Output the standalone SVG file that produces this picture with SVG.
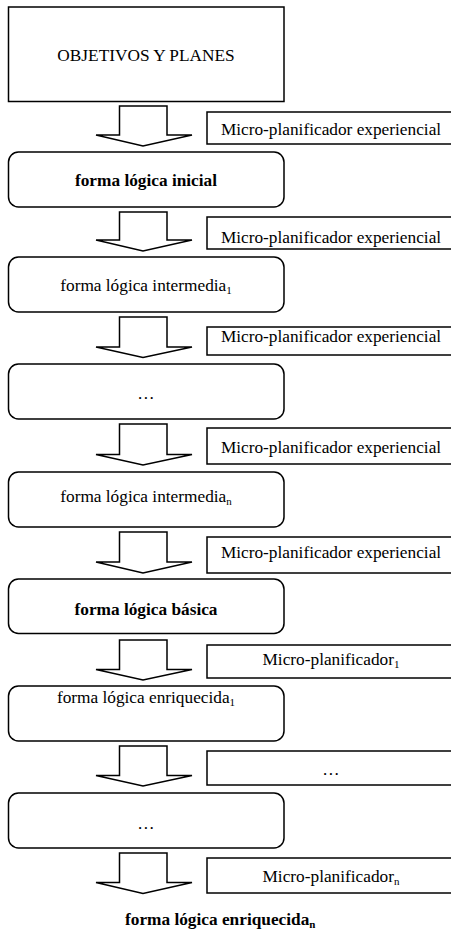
<svg xmlns="http://www.w3.org/2000/svg" width="451" height="940" viewBox="0 0 451 940">
<style>
.box{fill:#fff;stroke:#000;stroke-width:1.5}
.arr{fill:#fff;stroke:#000;stroke-width:1.5;stroke-linejoin:miter}
.t{font-family:"Liberation Serif","Times New Roman",serif;font-size:17.3px;fill:#000}
.c{text-anchor:middle}
.b{font-weight:bold}
.sub{font-size:11px}
</style>
<rect width="451" height="940" fill="#fff"/>
<g id="objetivos">
<rect class="box" x="8.5" y="7" width="275.5" height="94.5"/>
<text class="t c" x="146" y="61">OBJETIVOS Y PLANES</text>
</g>
<g id="fl-inicial">
<rect class="box" x="8.5" y="152" width="275.5" height="55" rx="10"/>
<text class="t c b" x="146" y="185.5">forma lógica inicial</text>
</g>
<g id="fl-intermedia1">
<rect class="box" x="8.5" y="257" width="275.5" height="55" rx="10"/>
<text class="t c" x="146" y="290.5">forma lógica intermedia<tspan class="sub" dy="3">1</tspan></text>
</g>
<g id="fl-dots1">
<rect class="box" x="8.5" y="364" width="275.5" height="55" rx="10"/>
<text class="t c" x="146" y="399">…</text>
</g>
<g id="fl-intermedian">
<rect class="box" x="8.5" y="472" width="275.5" height="55" rx="10"/>
<text class="t c" x="146" y="501.5">forma lógica intermedia<tspan class="sub" dy="3">n</tspan></text>
</g>
<g id="fl-basica">
<rect class="box" x="8.5" y="579" width="275.5" height="54.5" rx="10"/>
<text class="t c b" x="146" y="615">forma lógica básica</text>
</g>
<g id="fl-enriquecida1">
<rect class="box" x="8.5" y="686" width="275.5" height="55" rx="10"/>
<text class="t c" x="146" y="702.5">forma lógica enriquecida<tspan class="sub" dy="3">1</tspan></text>
</g>
<g id="fl-dots2">
<rect class="box" x="8.5" y="793" width="275.5" height="55" rx="10"/>
<text class="t c" x="146" y="828.5">…</text>
</g>
<g id="fl-enriquecidan">
<text class="t b" x="125" y="925">forma lógica enriquecida<tspan class="sub" dy="3">n</tspan></text>
</g>
<g id="labels">
<g id="lbl1"><rect class="box" x="207" y="112" width="260" height="32"/><text class="t c" x="331" y="135">Micro-planificador experiencial</text></g>
<g id="lbl2"><rect class="box" x="207" y="217" width="260" height="32"/><text class="t c" x="331" y="243">Micro-planificador experiencial</text></g>
<g id="lbl3"><rect class="box" x="207" y="327" width="260" height="28"/><text class="t c" x="331" y="341.5">Micro-planificador experiencial</text></g>
<g id="lbl4"><rect class="box" x="207" y="428" width="260" height="36"/><text class="t c" x="331" y="453">Micro-planificador experiencial</text></g>
<g id="lbl5"><rect class="box" x="207" y="537" width="260" height="36"/><text class="t c" x="331" y="558">Micro-planificador experiencial</text></g>
<g id="lbl6"><rect class="box" x="207" y="645" width="260" height="33"/><text class="t c" x="331" y="665">Micro-planificador<tspan class="sub" dy="3">1</tspan></text></g>
<g id="lbl7"><rect class="box" x="207" y="751" width="260" height="34"/><text class="t c" x="331" y="775">…</text></g>
<g id="lbl8"><rect class="box" x="207" y="858" width="260" height="35"/><text class="t c" x="331" y="882">Micro-planificador<tspan class="sub" dy="3">n</tspan></text></g>
</g>
<g id="connectors">
<path class="arr" d="M119.5,106 H167 V135 H192 L143,146 L96,135 H119.5 Z"/>
<path class="arr" d="M119.5,212 H167 V240 H192 L143,251 L96,240 H119.5 Z"/>
<path class="arr" d="M119.5,317 H167 V347 H192 L143,357.5 L96,347 H119.5 Z"/>
<path class="arr" d="M119.5,424 H167 V454.5 H192 L143,465 L96,454.5 H119.5 Z"/>
<path class="arr" d="M119.5,532 H167 V562 H192 L143,573 L96,562 H119.5 Z"/>
<path class="arr" d="M119.5,640 H167 V669.5 H192 L143,680 L96,669.5 H119.5 Z"/>
<path class="arr" d="M119.5,746 H167 V775.5 H192 L143,786 L96,775.5 H119.5 Z"/>
<path class="arr" d="M119.5,853 H167 V882.5 H192 L143,893.5 L96,882.5 H119.5 Z"/>
</g>
</svg>
